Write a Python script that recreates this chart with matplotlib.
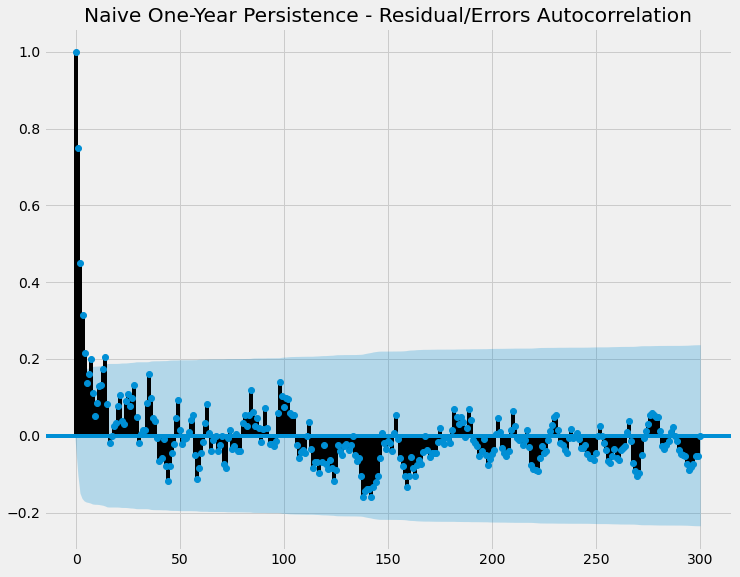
import numpy as np
import matplotlib
matplotlib.use('Agg')
import matplotlib.pyplot as plt

# residual autocorrelation, lags 0..300
acf_vals = [
    1.000, 0.749, 0.449, 0.315, 0.216, 0.137, 0.160, 0.200, 0.110, 0.052,
    0.085, 0.130, 0.132, 0.173, 0.205, 0.083, -0.019, 0.000, 0.026, 0.034,
    0.077, 0.105, 0.038, 0.031, 0.090, 0.109, 0.077, 0.098, 0.131, 0.048,
    -0.018, 0.005, 0.016, 0.016, 0.084, 0.160, 0.098, 0.047, 0.038, -0.007,
    -0.066, -0.059, -0.009, -0.078, -0.117, -0.078, -0.044, -0.021, 0.047, 0.092,
    0.015, -0.021, -0.009, -0.005, 0.010, 0.042, 0.053, -0.050, -0.113, -0.083,
    -0.045, -0.016, 0.034, 0.082, 0.007, -0.040, -0.012, 0.000, -0.040, -0.024,
    0.000, -0.074, -0.084, -0.005, 0.016, -0.034, -0.027, 0.005, -0.040, -0.040,
    0.034, 0.053, 0.025, 0.055, 0.118, 0.062, 0.025, 0.045, 0.021, -0.016,
    0.017, 0.072, 0.021, -0.021, -0.022, -0.027, -0.014, 0.060, 0.141, 0.103,
    0.075, 0.098, 0.095, 0.058, 0.055, 0.053, -0.024, -0.057, -0.042, -0.038,
    -0.044, 0.000, 0.035, -0.034, -0.083, -0.068, -0.068, -0.098, -0.068, -0.024,
    -0.074, -0.087, -0.063, -0.083, -0.117, -0.089, -0.024, -0.041, -0.050, -0.027,
    -0.022, -0.038, -0.024, 0.000, -0.050, -0.067, -0.057, -0.106, -0.160, -0.143,
    -0.140, -0.138, -0.160, -0.134, -0.121, -0.106, -0.057, 0.008, -0.018, -0.035,
    -0.014, -0.020, -0.040, 0.008, 0.054, -0.008, -0.057, -0.078, -0.106, -0.134,
    -0.106, -0.055, -0.083, -0.104, -0.076, -0.064, -0.074, -0.042, 0.000, -0.036,
    -0.055, -0.044, -0.044, -0.046, -0.016, 0.021, -0.014, -0.021, -0.003, -0.005,
    -0.018, 0.015, 0.070, 0.048, 0.030, 0.048, 0.036, -0.003, 0.021, 0.070,
    0.041, -0.012, -0.018, -0.028, -0.053, -0.040, -0.009, -0.050, -0.077, -0.060,
    -0.048, -0.038, 0.005, 0.046, 0.009, -0.031, -0.044, -0.053, -0.040, 0.016,
    0.064, 0.025, -0.005, -0.012, -0.005, -0.024, -0.012, 0.016, -0.029, -0.076,
    -0.087, -0.090, -0.091, -0.059, -0.027, -0.044, -0.041, -0.011, 0.012, 0.028,
    0.048, 0.053, 0.016, -0.018, -0.024, -0.038, -0.044, -0.005, 0.018, -0.005,
    0.000, 0.008, -0.009, -0.033, -0.033, -0.024, -0.047, -0.059, -0.059, -0.063,
    -0.044, 0.000, 0.026, 0.000, -0.019, -0.038, -0.066, -0.072, -0.053, -0.035,
    -0.058, -0.064, -0.038, -0.033, -0.028, 0.009, 0.038, -0.014, -0.070, -0.091,
    -0.106, -0.098, -0.050, -0.005, 0.012, 0.030, 0.055, 0.060, 0.053, 0.048,
    0.048, 0.013, -0.026, -0.035, -0.024, -0.015, 0.010, 0.022, 0.000, -0.014,
    -0.038, -0.047, -0.050, -0.052, -0.074, -0.090, -0.081, -0.074, -0.052, -0.052,
    0.000,
]
n_obs = 358  # series length used for the Bartlett band
title = 'Naive One-Year Persistence - Residual/Errors Autocorrelation'

plt.style.use('fivethirtyeight')

acf = np.array(acf_vals)
lags = np.arange(len(acf))

# Bartlett confidence band (as statsmodels does)
varacf = np.ones_like(acf) / n_obs
varacf[0] = 0
varacf[1] = 1.0 / n_obs
varacf[2:] *= 1 + 2 * np.cumsum(acf[1:-1] ** 2)
interval = 1.959964 * np.sqrt(varacf)

fig = plt.figure(figsize=(740 / 72, 577 / 72), dpi=72)
ax = fig.add_axes([44 / 740, 27 / 577, 688 / 740, 522 / 577])

ax.vlines(lags, [0], acf, colors='black')
ax.axhline(0)
ax.margins(0.05)
ax.plot(lags, acf, marker='o', markersize=6, linestyle='None')
ax.set_title(title)

band_x = lags.astype(float)
band_x[0] -= 0.5
band_x[-1] += 0.5
ax.fill_between(band_x, -interval, interval, alpha=0.25)

fig.savefig('out.png', dpi=72)
